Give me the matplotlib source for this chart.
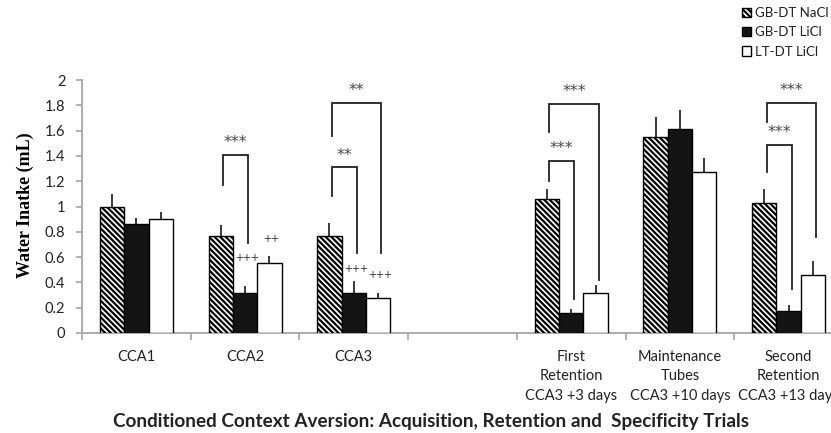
import numpy as np
import matplotlib
matplotlib.use("Agg")
import matplotlib.pyplot as plt
from matplotlib.patches import Patch

# ---------------- data ----------------
categories = ["CCA1", "CCA2", "CCA3", "",
              "First\nRetention\nCCA3 +3 days",
              "Maintenance\nTubes\nCCA3 +10 days",
              "Second\nRetention\nCCA3 +13 days"]
series_names = ["GB-DT NaCl", "GB-DT LiCl", "LT-DT LiCl"]
gb_nacl = [1.00, 0.77, 0.77, np.nan, 1.06, 1.55, 1.03]
gb_nacl_err = [0.10, 0.08, 0.10, np.nan, 0.08, 0.16, 0.11]
gb_licl = [0.86, 0.32, 0.32, np.nan, 0.16, 1.61, 0.17]
gb_licl_err = [0.05, 0.05, 0.09, np.nan, 0.03, 0.15, 0.05]
lt_licl = [0.90, 0.55, 0.28, np.nan, 0.32, 1.27, 0.46]
lt_licl_err = [0.06, 0.06, 0.04, np.nan, 0.06, 0.11, 0.11]
ytick_values = [0, 0.2, 0.4, 0.6, 0.8, 1, 1.2, 1.4, 1.6, 1.8, 2]
ytick_labels = ["0", "0.2", "0.4", "0.6", "0.8", "1", "1.2", "1.4", "1.6", "1.8", "2"]

# significance brackets: (category, left series, right series, left leg bottom, right leg bottom, top, label)
brackets = [
    (1, 0, 1, 1.17, 0.71, 1.41, "***"),
    (2, 0, 1, 1.08, 0.63, 1.31, "**"),
    (2, 0, 2, 1.56, 0.63, 1.82, "**"),
    (4, 0, 1, 1.20, 0.27, 1.36, "***"),
    (4, 0, 2, 1.59, 0.42, 1.81, "***"),
    (6, 0, 1, 1.27, 0.35, 1.49, "***"),
    (6, 0, 2, 1.67, 0.76, 1.82, "***"),
]
# "+" marks: (category, series, y)
plus_marks = [
    (1, 1, 0.585, "+++"),
    (1, 2, 0.735, "++"),
    (2, 1, 0.50, "+++"),
    (2, 2, 0.45, "+++"),
]

# ---------------- style ----------------
plt.rcParams['font.family'] = ['Lato', 'DejaVu Sans']
plt.rcParams['hatch.linewidth'] = 1.6
plt.rcParams['hatch.color'] = 'black'

fig = plt.figure(figsize=(8.31, 4.33), dpi=100)
ax = fig.add_axes([82 / 831, 100 / 433, 761 / 831, 253 / 433])

x = np.arange(len(categories))
w = 0.2235
offsets = [-w, 0, w]
values = [gb_nacl, gb_licl, lt_licl]
errs = [gb_nacl_err, gb_licl_err, lt_licl_err]
faces = ['white', '#141414', 'white']
hatches = ['\\' * 6, None, None]
errcol = '#2a2a2a'

for i in range(3):
    v = np.array(values[i], dtype=float)
    e = np.array(errs[i], dtype=float)
    ax.bar(x + offsets[i], v, width=w, color=faces[i], edgecolor='black',
           linewidth=1.0, hatch=hatches[i], zorder=3)
    ax.errorbar(x + offsets[i], v, yerr=[np.zeros_like(e), e], fmt='none',
                ecolor=errcol, elinewidth=1.3, capsize=0, zorder=2)

# brackets
for cat, s1, s2, lb, rb, top, lab in brackets:
    xl = x[cat] + offsets[s1] + 0.02
    xr = x[cat] + offsets[s2] + 0.03
    ax.plot([xl, xl, xr, xr], [lb, top, top, rb], color='#222222', lw=1.3,
            solid_joinstyle='miter', zorder=4)
    ax.text((xl + xr) / 2, top + 0.06, lab, ha='center', va='baseline',
            fontsize=11.5, family='DejaVu Sans', color='#444444', zorder=5)

for cat, s, yv, lab in plus_marks:
    ax.text(x[cat] + offsets[s] + 0.02, yv, lab, ha='center', va='center',
            fontsize=10, family='Liberation Serif', color='#222222', zorder=5)

ax.set_xlim(-0.5, len(categories) - 0.5)
ax.set_ylim(0, 2)
ax.set_yticks(ytick_values)
ax.set_yticklabels(ytick_labels)
ax.set_xticks(x)
ax.set_xticklabels(categories, linespacing=1.5)
ax.set_xticks(np.arange(-0.5, len(categories) + 0.5, 1), minor=True)
ax.tick_params(axis='x', which='major', length=0, pad=12, labelsize=10.5,
               labelcolor='#222222')
ax.tick_params(axis='x', which='minor', length=5, width=1.2, color='#a6a6a6',
               direction='out')
ax.tick_params(axis='y', length=4, width=1.2, color='#a6a6a6', labelsize=10.5,
               labelcolor='#222222', pad=8)
for s in ['top', 'right']:
    ax.spines[s].set_visible(False)
for s in ['left', 'bottom']:
    ax.spines[s].set_color('#a6a6a6')
    ax.spines[s].set_linewidth(1.3)

fig.text(25 / 831, (433 - 205) / 433, "Water Inatke (mL)", rotation=90,
         ha='center', va='center', fontsize=13, fontweight='bold',
         family='Liberation Serif', color='black')
fig.text(431 / 831, (433 - 421) / 433,
         "Conditioned Context Aversion: Acquisition, Retention and  Specificity Trials",
         ha='center', va='center', fontsize=13.6, fontweight='bold', color='#222222')

handles = [Patch(facecolor=faces[i], edgecolor='black', hatch=hatches[i], linewidth=1.0)
           for i in range(3)]
leg = fig.legend(handles, series_names, loc='upper left',
                 bbox_to_anchor=(742 / 831, 1 - 7 / 433), frameon=False,
                 fontsize=9.5, handlelength=0.7, handleheight=0.7,
                 handletextpad=0.3, labelspacing=0.55, borderaxespad=0,
                 borderpad=0)
for t in leg.get_texts():
    t.set_color('#222222')

fig.savefig("out.png", dpi=100)
